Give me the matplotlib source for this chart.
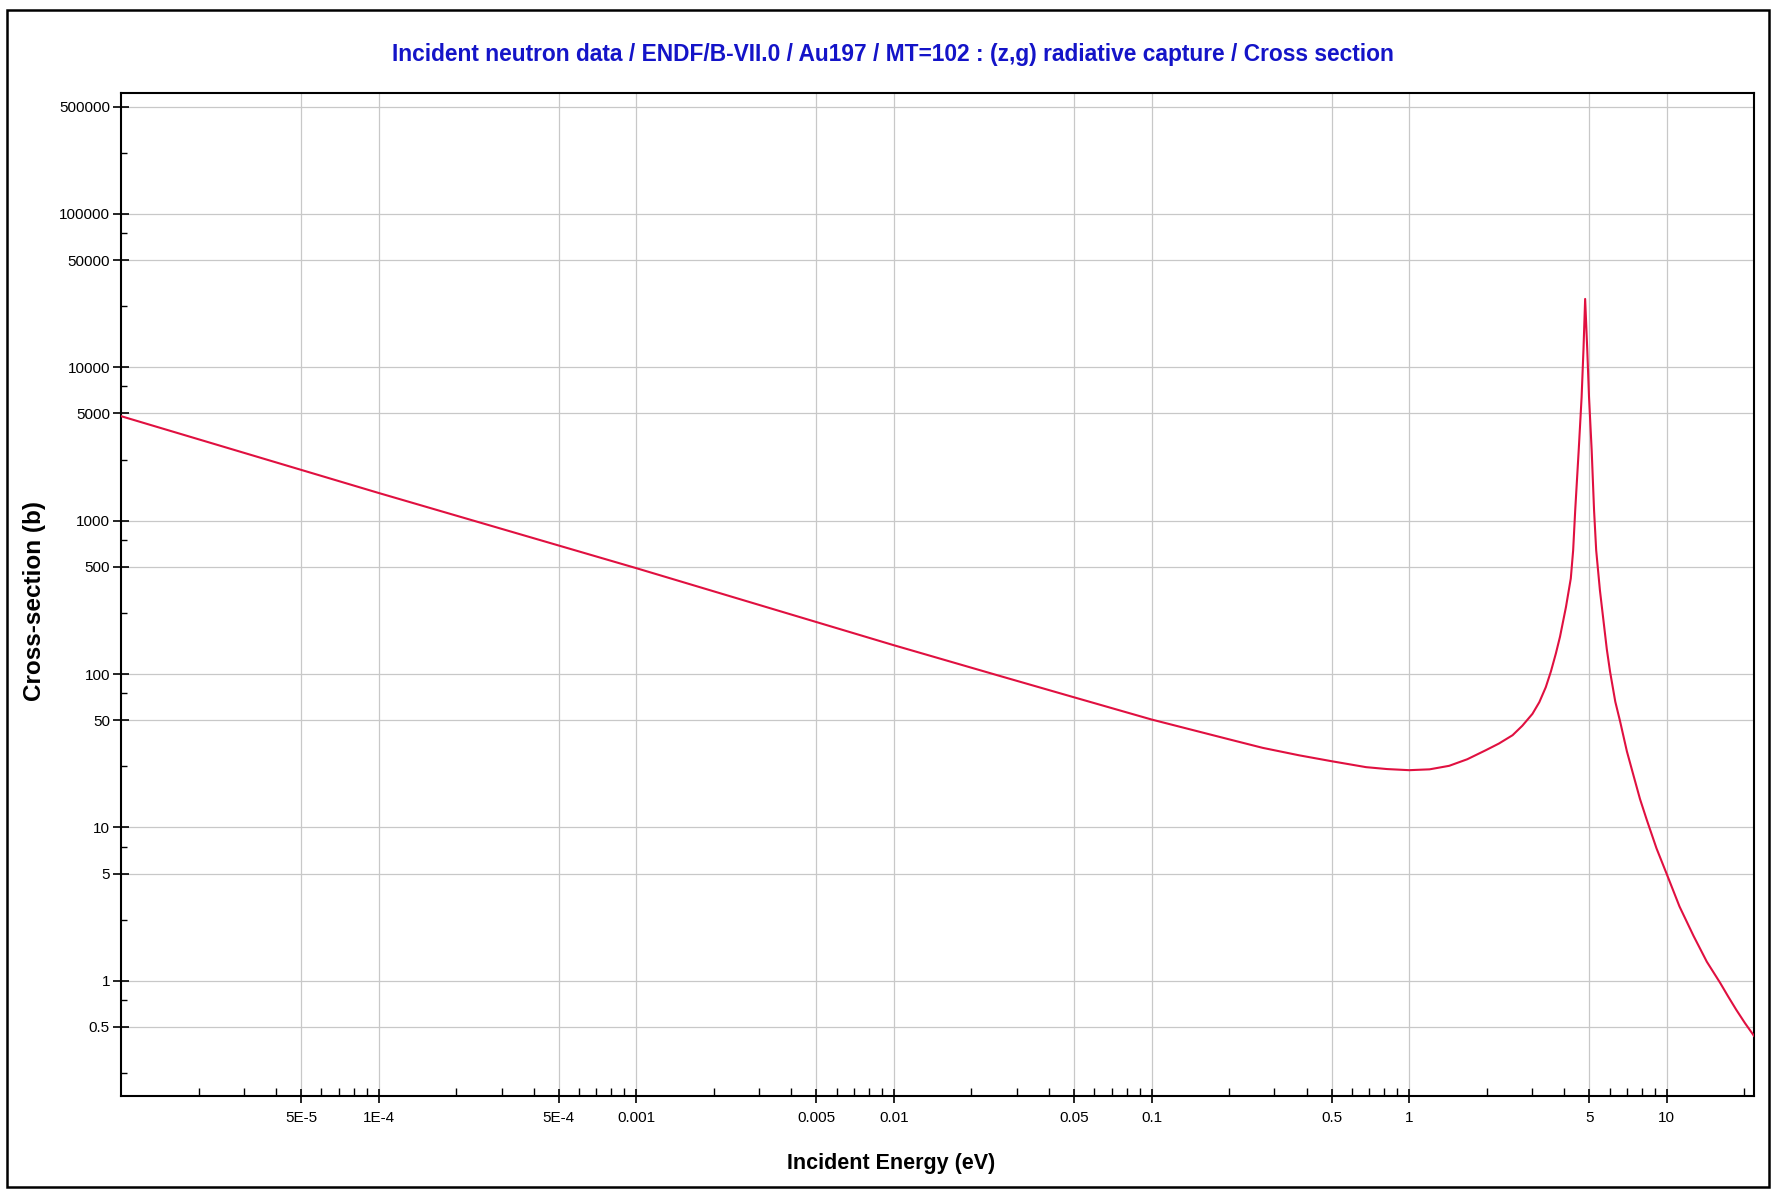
import matplotlib
matplotlib.use("Agg")
import matplotlib.pyplot as plt
import matplotlib.ticker as ticker
from matplotlib.patches import Rectangle

# values (energy in eV, cross-section in barn)
energy = [1e-5, 1e-4, 1e-3, 0.01, 0.0253, 0.05, 0.1, 0.2, 0.27, 0.374, 0.5, 0.68,
          0.82, 1.0, 1.2, 1.43, 1.68, 1.98, 2.23, 2.52, 2.75, 3.01, 3.2, 3.39,
          3.55, 3.71, 3.85, 4.06, 4.24, 4.33, 4.41, 4.55, 4.67, 4.75, 4.82, 4.91,
          4.99, 5.11, 5.22, 5.32, 5.50, 5.85, 6.02, 6.31, 6.58, 7.0, 7.42, 7.87,
          8.36, 9.12, 10.0, 11.2, 12.7, 14.3, 16.1, 17.3, 18.6, 20.1, 21.8]
xsec = [4800, 1515, 490, 154, 98, 70.5, 50.5, 37.5, 33.0, 29.5, 27.0, 24.7,
        24.0, 23.6, 23.9, 25.2, 27.8, 31.8, 35.2, 39.9, 46.0, 55.0, 65.5, 82.0,
        104, 136, 175, 273, 420, 640, 1165, 2870, 6380, 13200, 27900, 13200,
        6380, 2870, 1165, 640, 352, 145, 104, 66.0, 49.5, 31.3, 21.9, 15.3,
        11.2, 7.3, 4.95, 3.05, 1.96, 1.33, 0.97, 0.79, 0.647, 0.53, 0.437]

x_major = [5e-5, 1e-4, 5e-4, 1e-3, 5e-3, 1e-2, 5e-2, 0.1, 0.5, 1, 5, 10]
x_labels = ["5E-5", "1E-4", "5E-4", "0.001", "0.005", "0.01", "0.05", "0.1", "0.5", "1", "5", "10"]
y_major = [0.5, 1, 5, 10, 50, 100, 500, 1000, 5000, 10000, 50000, 100000, 500000]
y_labels = ["0.5", "1", "5", "10", "50", "100", "500", "1000", "5000", "10000", "50000", "100000", "500000"]

title = "Incident neutron data / ENDF/B-VII.0 / Au197 / MT=102 : (z,g) radiative capture / Cross section"

plt.rcParams["font.family"] = ["Liberation Sans", "DejaVu Sans"]

W, H = 1772, 1189
fig = plt.figure(figsize=(W / 100, H / 100), dpi=100)
ax = fig.add_axes([121 / W, 1 - 1095.7 / H, (1754 - 121) / W, (1095.7 - 92.7) / H])

ax.plot(energy, xsec, color="#e01040", lw=1.5, zorder=3)
ax.set_xscale("log")
ax.set_yscale("log")
ax.set_xlim(1e-5, 21.8)
ax.set_ylim(0.178, 6.17e5)

ax.set_xticks(x_major)
ax.set_xticklabels(x_labels)
ax.set_yticks(y_major)
ax.set_yticklabels(y_labels)
ax.xaxis.set_minor_locator(ticker.LogLocator(base=10, subs=[2, 3, 4, 6, 7, 8, 9], numticks=50))
ax.yaxis.set_minor_locator(ticker.LogLocator(base=10, subs=[2.5, 7.5], numticks=50))
ax.xaxis.set_minor_formatter(ticker.NullFormatter())
ax.yaxis.set_minor_formatter(ticker.NullFormatter())

ax.tick_params(axis="x", which="major", direction="inout", length=10, width=1.2, pad=6, labelsize=11)
ax.tick_params(axis="x", which="minor", direction="in", length=5.5, width=1.0)
ax.tick_params(axis="y", which="major", direction="inout", length=12, width=1.2, pad=2, labelsize=11)
ax.tick_params(axis="y", which="minor", direction="in", length=4.5, width=1.0)

ax.grid(True, which="major", color="#c8c8c8", lw=0.9)
ax.set_axisbelow(True)
for s in ax.spines.values():
    s.set_linewidth(1.5)
    s.set_color("black")

fig.text(893 / W, 1 - 55 / H, title, color="#1414c8", fontsize=16.4, fontweight="bold",
         ha="center", va="center")
fig.text(891 / W, 1 - 1163 / H, "Incident Energy (eV)", fontsize=15.5, fontweight="bold",
         ha="center", va="center")
fig.text(35 / W, 1 - 601 / H, "Cross-section (b)", fontsize=17.5, fontweight="bold",
         rotation=90, ha="center", va="center")

fig.add_artist(Rectangle((7 / W, 2 / H), (1769 - 7) / W, (1179 - 2) / H, transform=fig.transFigure,
                         fill=False, edgecolor="black", lw=1.8))

fig.savefig("out.png", dpi=100)
